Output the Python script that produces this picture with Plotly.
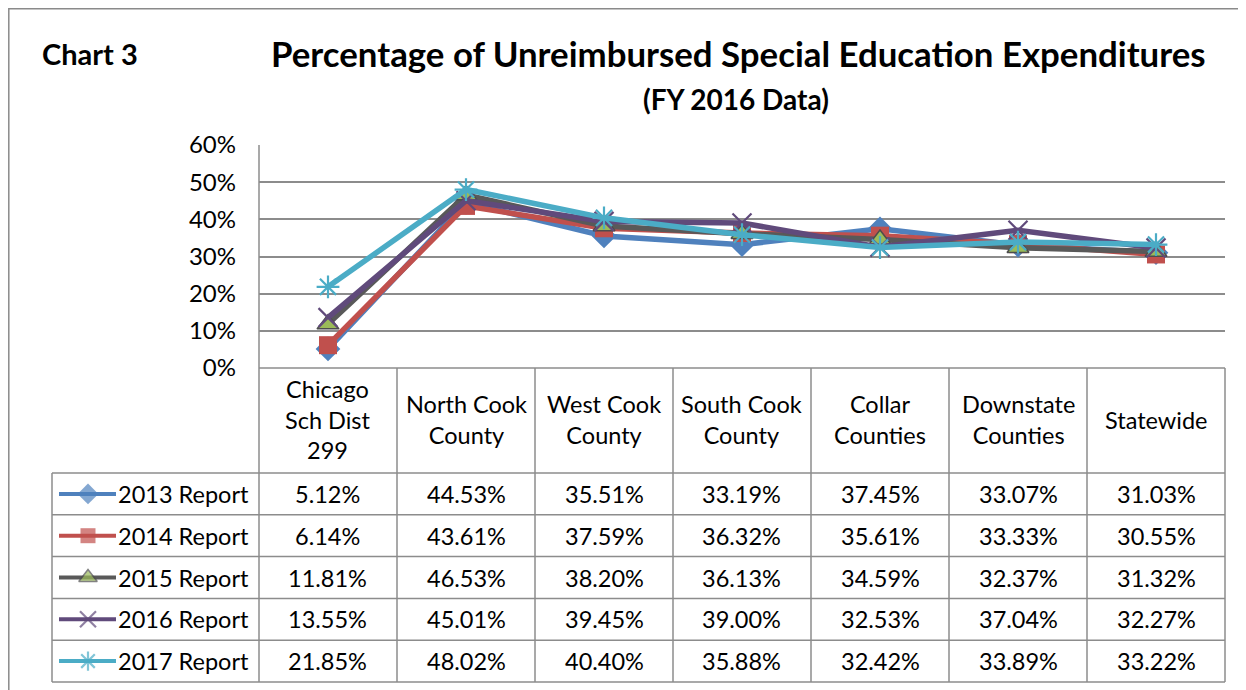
import plotly.graph_objects as go

# data
categories = ["Chicago<br>Sch Dist<br>299", "North Cook<br>County", "West Cook<br>County",
              "South Cook<br>County", "Collar<br>Counties", "Downstate<br>Counties", "Statewide"]
series_names = ["2013 Report", "2014 Report", "2015 Report", "2016 Report", "2017 Report"]
r2013 = [0.0512, 0.4453, 0.3551, 0.3319, 0.3745, 0.3307, 0.3103]
r2014 = [0.0614, 0.4361, 0.3759, 0.3632, 0.3561, 0.3333, 0.3055]
r2015 = [0.1181, 0.4653, 0.3820, 0.3613, 0.3459, 0.3237, 0.3132]
r2016 = [0.1355, 0.4501, 0.3945, 0.3900, 0.3253, 0.3704, 0.3227]
r2017 = [0.2185, 0.4802, 0.4040, 0.3588, 0.3242, 0.3389, 0.3322]
y_ticks = [0, 0.1, 0.2, 0.3, 0.4, 0.5, 0.6]

values = [r2013, r2014, r2015, r2016, r2017]

# styles
W, H = 1246, 690
OFF = 8  # page body margin, so layout below is in window pixels
FONT = "Lato"
GRID = "#8c8c8c"
TXT = 23.5
line_colors = ["#4F81BD", "#C0504D", "#595959", "#604A7B", "#4BACC6"]
symbols = ["diamond", "square", "triangle-up", "x-thin-open", "asterisk-open"]
msizes = [19, 18, 19, 19, 19]
mfill = ["#4F81BD", "#C0504D", "#9BBB59", "#604A7B", "#4BACC6"]
mline_w = [0, 0, 1.5, 2.2, 2.2]
mline_c = ["#4F81BD", "#C0504D", "#4d4d4d", "#604A7B", "#4BACC6"]

# geometry (window pixels)
plot_l, plot_r, plot_t, plot_b = 259, 1225, 145, 368
col_w = (plot_r - plot_l) / len(categories)
head_b = 473
table_b = 682
row_h = (table_b - head_b) / len(series_names)
leg_l = 52


def px(x):
    return (x - OFF) / W


def py(y):
    return 1 - (y - OFF) / H


fig = go.Figure()

xi = list(range(len(categories)))
for i, name in enumerate(series_names):
    fig.add_trace(go.Scatter(
        x=xi, y=values[i], mode="lines+markers", name=name,
        line=dict(color=line_colors[i], width=5.5),
        marker=dict(symbol=symbols[i], size=msizes[i], color=mfill[i],
                    line=dict(color=mline_c[i], width=mline_w[i])),
        showlegend=False, hoverinfo="skip",
    ))

# legend keys drawn inside the table's first column
for i, name in enumerate(series_names):
    yc = head_b + row_h * (i + 0.5)
    fig.add_trace(go.Scatter(
        x=[59, 88, 116], y=[yc, yc, yc], mode="lines+markers",
        xaxis="x2", yaxis="y2",
        line=dict(color=line_colors[i], width=4),
        marker=dict(symbol=symbols[i], size=[0, msizes[i] - 3, 0], color=mfill[i],
                    line=dict(color=mline_c[i], width=mline_w[i])),
        showlegend=False, hoverinfo="skip",
    ))

shapes = []
ann = []

# outer chart border
shapes.append(dict(type="rect", xref="paper", yref="paper", x0=px(8.8), x1=px(W + 20),
                   y0=py(H + 20), y1=py(8.8), line=dict(color="#8a8a8a", width=1.5)))

# table lines
shapes.append(dict(type="line", xref="paper", yref="paper", x0=px(plot_l), x1=px(plot_l),
                   y0=py(plot_t), y1=py(table_b), line=dict(color=GRID, width=1.5)))
for c in range(1, len(categories) + 1):
    x = plot_l + c * col_w
    shapes.append(dict(type="line", xref="paper", yref="paper", x0=px(x), x1=px(x),
                       y0=py(plot_b), y1=py(table_b), line=dict(color=GRID, width=1.5)))
shapes.append(dict(type="line", xref="paper", yref="paper", x0=px(plot_l), x1=px(plot_r),
                   y0=py(plot_b), y1=py(plot_b), line=dict(color=GRID, width=1.5)))
for r in range(len(series_names) + 1):
    y = head_b + r * row_h
    shapes.append(dict(type="line", xref="paper", yref="paper", x0=px(leg_l), x1=px(plot_r),
                       y0=py(y), y1=py(y), line=dict(color=GRID, width=1.5)))
shapes.append(dict(type="line", xref="paper", yref="paper", x0=px(leg_l), x1=px(leg_l),
                   y0=py(head_b), y1=py(table_b), line=dict(color=GRID, width=1.5)))

# header labels
for c, cat in enumerate(categories):
    ann.append(dict(xref="paper", yref="paper", x=px(plot_l + (c + 0.5) * col_w),
                    y=py((plot_b + head_b) / 2 - 1), text=cat, showarrow=False,
                    xanchor="center", yanchor="middle", font=dict(size=TXT, color="black")))

# row labels and values
for i, name in enumerate(series_names):
    yc = head_b + row_h * (i + 0.5)
    ann.append(dict(xref="paper", yref="paper", x=px(116), y=py(yc), text=name,
                    showarrow=False, xanchor="left", yanchor="middle",
                    font=dict(size=TXT, color="black")))
    for c, v in enumerate(values[i]):
        ann.append(dict(xref="paper", yref="paper", x=px(plot_l + (c + 0.5) * col_w), y=py(yc),
                        text=f"{v:.2%}", showarrow=False, xanchor="center", yanchor="middle",
                        font=dict(size=TXT, color="black")))

# titles
ann.append(dict(xref="paper", yref="paper", x=px(738), y=py(54),
                text="<b>Percentage of Unreimbursed Special Education Expenditures</b>",
                showarrow=False, xanchor="center", yanchor="middle",
                font=dict(size=34.8, color="black")))
ann.append(dict(xref="paper", yref="paper", x=px(736), y=py(99), text="<b>(FY 2016 Data)</b>",
                showarrow=False, xanchor="center", yanchor="middle",
                font=dict(size=28, color="black")))
ann.append(dict(xref="paper", yref="paper", x=px(40), y=py(54), text="<b>Chart 3</b>",
                showarrow=False, xanchor="left", yanchor="middle",
                font=dict(size=29, color="black")))

fig.update_layout(
    width=W, height=H,
    margin=dict(l=0, r=0, t=0, b=0, pad=0),
    paper_bgcolor="white", plot_bgcolor="rgba(0,0,0,0)",
    showlegend=False,
    font=dict(family=FONT, color="black"),
    xaxis=dict(domain=[px(plot_l), px(plot_r)], range=[-0.5, len(categories) - 0.5],
               showticklabels=False, showgrid=False, zeroline=False, automargin=False),
    yaxis=dict(domain=[py(plot_b), py(plot_t)], range=[0, 0.6], tickvals=y_ticks,
               tickformat=".0%", showgrid=True, gridcolor=GRID, gridwidth=1.5,
               zeroline=False, ticks="", ticklabelstandoff=22, automargin=False,
               tickfont=dict(size=24, color="black")),
    xaxis2=dict(domain=[0, 1], range=[OFF, W + OFF], visible=False, anchor="y2",
                automargin=False),
    yaxis2=dict(domain=[0, 1], range=[H + OFF, OFF], visible=False, anchor="x2",
                automargin=False),
    shapes=shapes,
    annotations=ann,
)

fig.write_html("out.html")
